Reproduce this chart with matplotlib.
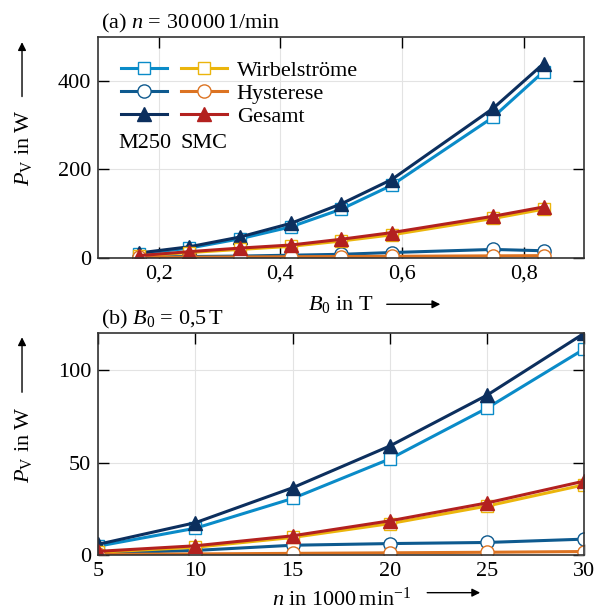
import matplotlib
matplotlib.use('Agg')
import matplotlib.pyplot as plt
from matplotlib import ticker
from matplotlib.legend_handler import HandlerTuple
from matplotlib.patches import FancyArrowPatch

# (a) n = 30000 1/min, Verluste ueber B0
B0 = [0.167, 0.25, 0.333, 0.417, 0.5, 0.583, 0.75, 0.833]
m250_w_a = [9, 22, 43, 70, 110, 164, 318, 421]
m250_h_a = [2, 3, 4, 6, 8, 12, 19, 16]
m250_g_a = [11, 25, 47, 78, 122, 177, 338, 439]
smc_w_a = [4, 12, 19, 26, 38, 52, 89, 110]
smc_h_a = [1, 1.5, 2, 2.5, 3, 3.5, 4.5, 5]
smc_g_a = [5, 14, 22, 29, 42, 57, 94, 115]

# (b) B0 = 0,5 T, Verluste ueber Drehzahl
n = [5, 10, 15, 20, 25, 30]
m250_w_b = [4.8, 14.5, 30.6, 52, 79.5, 111.5]
m250_h_b = [1.0, 2.5, 5.3, 6.2, 6.8, 8.6]
m250_g_b = [5.8, 17.5, 36.4, 59, 86.5, 120]
smc_w_b = [1.5, 4.2, 9.5, 17, 26.5, 38]
smc_h_b = [0.3, 0.6, 0.9, 1.2, 1.5, 1.9]
smc_g_b = [2.0, 5.0, 10.4, 18.5, 28.2, 40]

labels = ['Wirbelströme', 'Hysterese', 'Gesamt']

c_m250 = ['#0a8bc8', '#0e5a8f', '#0c2f5e']
c_smc = ['#ebb50c', '#dc7322', '#b3211f']
markers = ['s', 'o', '^']
msizes = [9, 9.5, 10]

plt.rcParams['font.family'] = 'serif'
plt.rcParams['font.serif'] = ['Liberation Serif', 'DejaVu Serif']
plt.rcParams['mathtext.fontset'] = 'custom'
plt.rcParams['mathtext.rm'] = 'Liberation Serif'
plt.rcParams['mathtext.it'] = 'Liberation Serif:italic'

fs = 16


def style(ax):
    ax.grid(True, color='#e3e3e3', lw=0.8)
    ax.set_axisbelow(True)
    ax.tick_params(direction='in', top=True, right=True, length=8, width=1.0,
                   labelsize=fs, pad=5)
    for s in ax.spines.values():
        s.set_color('#333333')
        s.set_linewidth(1.2)


def draw(ax, x, m250, smc):
    out = []
    for cols, series in ((c_m250, m250), (c_smc, smc)):
        hs = []
        for i in range(3):
            fc = cols[i] if markers[i] == '^' else 'white'
            l, = ax.plot(x, series[i], color=cols[i], marker=markers[i], ms=msizes[i],
                         mfc=fc, mec=cols[i], mew=1.0, lw=2.2)
            hs.append(l)
        out.append(hs)
    return out


fig = plt.figure(figsize=(5.95, 6.11), dpi=100)
ax1 = fig.add_axes([0.165, 0.578, 0.817, 0.362])
ax2 = fig.add_axes([0.165, 0.0916, 0.817, 0.363])

h1, h2 = draw(ax1, B0, [m250_w_a, m250_h_a, m250_g_a], [smc_w_a, smc_h_a, smc_g_a])
draw(ax2, n, [m250_w_b, m250_h_b, m250_g_b], [smc_w_b, smc_h_b, smc_g_b])

for ax in (ax1, ax2):
    style(ax)

ax1.set_xlim(0.1, 0.9)
ax1.set_ylim(0, 500)
ax1.set_xticks([0.2, 0.4, 0.6, 0.8])
ax1.set_yticks([0, 200, 400])
ax1.xaxis.set_major_formatter(ticker.FuncFormatter(lambda v, p: f'{v:.1f}'.replace('.', ',')))
ax1.set_title(r'(a) $n$ = 30$\,$000$\,$1/min', loc='left', fontsize=fs, pad=6, x=0.005)
ax1.set_xlabel(r'$B_0$ in T', fontsize=fs, labelpad=7)
ax1.set_ylabel(r'$P_\mathrm{V}$ in W', fontsize=fs, labelpad=17)

ax2.set_xlim(5, 30)
ax2.set_ylim(0, 120)
ax2.set_xticks([5, 10, 15, 20, 25, 30])
ax2.set_yticks([0, 50, 100])
ax2.set_title(r'(b) $B_0$ = 0,5$\,$T', loc='left', fontsize=fs, pad=6, x=0.005)
ax2.set_xlabel(r'$n$ in 1000$\,$min$^{-1}$', fontsize=fs, labelpad=5)
ax2.set_ylabel(r'$P_\mathrm{V}$ in W', fontsize=fs, labelpad=17)

# Pfeile an den Achsbeschriftungen
arr = dict(arrowstyle='-|>', color='k', lw=1.0, mutation_scale=12, shrinkA=0, shrinkB=0)
for p0, p1 in [((0.650, 0.502), (0.740, 0.502)),
               ((0.718, 0.030), (0.807, 0.030)),
               ((0.037, 0.842), (0.037, 0.931)),
               ((0.037, 0.358), (0.037, 0.448))]:
    fig.add_artist(FancyArrowPatch(p0, p1, transform=fig.transFigure, **arr))

# Legende: M250 | SMC nebeneinander
handles = [(h1[i], h2[i]) for i in range(3)]
leg = ax1.legend(handles, labels, handler_map={tuple: HandlerTuple(ndivide=None, pad=0.63)},
                 loc='upper left', bbox_to_anchor=(0.02, 0.955), frameon=False,
                 handlelength=4.75, handletextpad=0.45, labelspacing=0.12, fontsize=fs,
                 borderaxespad=0.2)
ax1.text(0.097, 0.515, 'M250', transform=ax1.transAxes, ha='center', va='center', fontsize=fs)
ax1.text(0.218, 0.515, 'SMC', transform=ax1.transAxes, ha='center', va='center', fontsize=fs)

fig.savefig('out.png', dpi=100)
